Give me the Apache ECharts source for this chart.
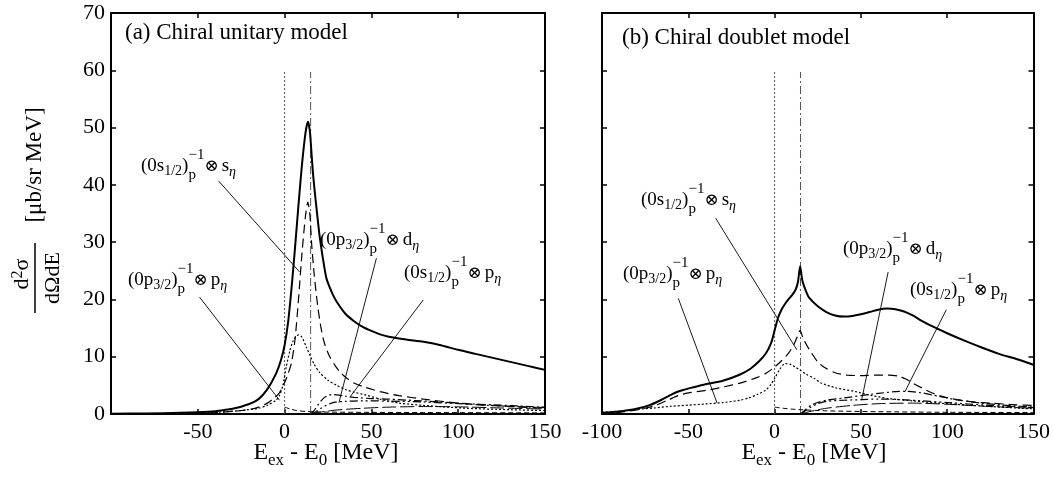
<!DOCTYPE html>
<html>
<head>
<meta charset="utf-8">
<script src="https://cdn.jsdelivr.net/npm/echarts@6/dist/echarts.min.js"></script>
<style>
  html, body { margin: 0; padding: 0; background: #fff; }
  #chart { width: 1053px; height: 478px; }
</style>
</head>
<body>
<div id="chart"></div>
<script>
// ---------------- data: excitation energy [MeV] vs d2sigma/dOmega dE [ub/sr MeV] ----------------
const energyTicks = [-100, -50, 0, 50, 100, 150];
const crossSectionTicks = [0, 10, 20, 30, 40, 50, 60, 70];

// (a) chiral unitary model
const unitaryTotal = [[-100,0.05],[-80,0.1],[-60,0.2],[-50,0.3],[-40,0.5],[-30,0.9],[-20,1.8],[-15,2.6],[-10,4.3],[-5,7],[-2,9.5],[0,12],[2,16],[4,22],[6,29],[8,36.5],[10,43.5],[12,49],[13.4,51],[14.5,49.5],[15.5,45.5],[16.5,41.5],[18,37],[20,31.5],[22,27.3],[24,23.8],[26,22.1],[28,20.7],[30,19.6],[35,17.5],[40,16.2],[45,15.2],[50,14.5],[55,13.9],[60,13.5],[70,13.0],[80,12.6],[90,12.0],[100,11.2],[110,10.5],[120,9.8],[130,9.1],[140,8.4],[150,7.7]];
const unitaryS12SEta = [[-100,0.02],[-60,0.1],[-40,0.25],[-30,0.45],[-20,0.8],[-15,1.2],[-10,1.9],[-6,2.8],[-3,3.7],[0,5.5],[2,7],[4,9],[6,13],[8,20],[10,28],[12,34.5],[13.4,37],[14.5,35],[15.5,30],[17,24.5],[19,19],[21,15],[23,12.3],[26,10],[29,8.5],[32,7.3],[36,6.2],[40,5.4],[45,4.8],[55,3.9],[66,3.2],[80,2.6],[100,1.9],[125,1.4],[150,1.0]];
const unitaryP32PEta = [[-100,0.02],[-60,0.1],[-40,0.3],[-25,0.6],[-15,1.0],[-10,1.5],[-5,2.4],[-3,3.2],[-1,5],[1,8.3],[3,11],[5,12.8],[8,13.8],[10,13.4],[12.5,11.7],[15,10],[17,8.7],[20,7.3],[25,5.9],[30,5.0],[35,4.3],[40,3.8],[47,3.3],[55,2.6],[66,1.9],[80,1.5],[105,1.0],[130,0.75],[150,0.6]];
const unitaryS12PEta = [[15,0],[17,0.6],[19,1.5],[21,2.3],[23,2.9],[25,3.25],[27,3.4],[30,3.35],[35,3.1],[40,2.9],[50,2.7],[60,2.6],[75,2.35],[90,2.1],[105,1.8],[120,1.6],[135,1.4],[150,1.2]];
const unitaryP32DEta = [[15,0],[18,0.4],[21,1.0],[24,1.5],[27,1.9],[30,2.1],[35,2.2],[45,2.3],[60,2.25],[80,2.1],[100,1.8],[125,1.4],[150,1.1]];
const unitaryP12PEta = [[15,0],[20,0.3],[30,0.7],[45,1.0],[60,1.2],[80,1.3],[100,1.25],[125,1.05],[150,0.85]];
const unitaryP12SEta = [[0,1.2],[3,0.9],[7,0.6],[12,0.45],[20,0.35],[40,0.3],[80,0.25],[150,0.2]];

// (b) chiral doublet model
const doubletTotal = [[-100,0.2],[-90,0.45],[-80,0.9],[-72,1.6],[-66,2.4],[-61,3.2],[-57,3.8],[-53,4.2],[-48,4.6],[-40,5.2],[-30,5.8],[-20,6.9],[-14,7.9],[-9,9.2],[-5,10.6],[-2,12.4],[0,14.6],[2,16.8],[4,18.2],[6,19.2],[8,20],[10,20.7],[12,21.6],[13.5,23],[14.8,25.8],[16,23.4],[18,21.6],[20,20.3],[25,18.8],[30,17.8],[35,17.2],[40,17.0],[45,17.1],[50,17.4],[55,17.8],[60,18.2],[65,18.4],[70,18.3],[75,17.9],[80,17.2],[85,16.3],[90,15.5],[100,14.1],[110,12.8],[120,11.6],[130,10.5],[140,9.6],[150,8.6]];
const doubletS12SEta = [[-100,0.1],[-90,0.3],[-80,0.7],[-70,1.4],[-62,2.4],[-56,3.2],[-50,3.7],[-45,3.9],[-38,4.2],[-30,4.7],[-20,5.4],[-10,6.4],[-5,7.1],[0,8.2],[4,9.3],[8,10.6],[11,12],[13,13.4],[14.8,14.6],[16.5,13.2],[19,11.8],[21.5,10.6],[25,9.1],[29,8.1],[35,7.2],[42,6.8],[50,6.7],[58,6.8],[66,6.8],[72,6.6],[76,6.1],[80,5.4],[85,4.6],[91,3.7],[98,3.0],[106,2.5],[115,2.1],[125,1.9],[140,1.6],[150,1.5]];
const doubletP32PEta = [[-100,0.3],[-90,0.5],[-80,0.8],[-70,1.05],[-60,1.35],[-50,1.55],[-40,1.75],[-30,2.0],[-20,2.4],[-15,2.8],[-10,3.4],[-5,4.2],[-2,5.2],[0,6.2],[3,7.8],[6,8.8],[9,8.7],[12,8.2],[15,7.6],[18,7.0],[23,6.2],[27,5.4],[35,4.6],[47,3.9],[55,3.3],[66,2.7],[80,2.3],[95,1.9],[120,1.4],[143,1.0],[150,0.9]];
const doubletS12PEta = [[15,0],[18,0.8],[21,1.5],[25,2.0],[30,2.4],[40,2.8],[50,3.2],[60,3.6],[70,3.9],[76,3.95],[85,3.7],[95,3.1],[105,2.5],[120,1.9],[135,1.5],[150,1.2]];
const doubletP32DEta = [[15,0],[18,0.6],[21,1.2],[25,1.8],[30,2.2],[40,2.4],[50,2.5],[60,2.6],[70,2.55],[80,2.4],[100,2.0],[125,1.5],[150,1.1]];
const doubletP12PEta = [[15,0],[20,0.4],[30,1.0],[45,1.5],[60,1.8],[80,1.9],[100,1.7],[125,1.3],[150,1.0]];
const doubletP12SEta = [[0,1.2],[5,1.0],[10,0.85],[15,0.75],[30,0.55],[60,0.4],[100,0.3],[150,0.25]];

// eta-production thresholds and the height their markers are drawn to
const thresholdEnergies = [0, 15];
const thresholdTop = 59.7;

// ---------------- drawing ----------------
const FAMILY = '"Liberation Serif", "DejaVu Serif", "DejaVu Sans", serif';
const chart = echarts.init(document.getElementById('chart'), null, { renderer: 'canvas' });

const styles = {
  total:  { width: 2, type: 'solid' },
  sEta:   { width: 1.2, type: [9, 5] },
  pEta:   { width: 1.2, type: [2, 2] },
  spEta:  { width: 1.2, type: [8, 3, 2, 3] },
  dEta:   { width: 1.2, type: [8, 3, 2, 3, 2, 3] },
  pp:     { width: 1, type: [14, 4] },
  ps:     { width: 1, type: [5, 3] }
};

function curve(data, idx, style, z) {
  return {
    type: 'line', xAxisIndex: idx, yAxisIndex: idx, data: data,
    showSymbol: false, symbol: 'none', smooth: 0.25, silent: true,
    lineStyle: Object.assign({ color: '#000' }, style), z: z || 3
  };
}
function segment(a, b, idx, style) {
  return {
    type: 'line', xAxisIndex: idx, yAxisIndex: idx, data: [a, b],
    showSymbol: false, symbol: 'none', smooth: false, silent: true,
    lineStyle: Object.assign({ color: '#000' }, style), z: 2
  };
}

// pointer lines from each label to its curve, in data coordinates
const unitaryPointers = [[[-38.1,40.7],[8.65,24.8]], [[-49,20.4],[-2.9,2.4]], [[52.9,27.2],[31.3,2.0]], [[79.8,19.9],[37.5,2.9]]];
const doubletPointers = [[[-34.2,34.2],[12.9,11.2]], [[-55.8,20.2],[-33.3,1.9]], [[65.8,24.8],[50.4,2.4]], [[99.5,18.2],[75.5,3.9]]];

function panelSeries(idx, set, pointers) {
  const out = [];
  out.push(segment([thresholdEnergies[0], 0], [thresholdEnergies[0], thresholdTop], idx, { color: '#555', width: 1, type: [2, 2] }));
  out.push(segment([thresholdEnergies[1], 0], [thresholdEnergies[1], thresholdTop], idx, { color: '#555', width: 1, type: [8, 3, 2, 3] }));
  pointers.forEach(p => out.push(segment(p[0], p[1], idx, { width: 0.9 })));
  out.push(curve(set.ps, idx, styles.ps));
  out.push(curve(set.pp, idx, styles.pp));
  out.push(curve(set.dEta, idx, styles.dEta));
  out.push(curve(set.spEta, idx, styles.spEta));
  out.push(curve(set.pEta, idx, styles.pEta));
  out.push(curve(set.sEta, idx, styles.sEta));
  out.push(curve(set.total, idx, styles.total, 5));
  return out;
}

const series = [].concat(
  panelSeries(0, { total: unitaryTotal, sEta: unitaryS12SEta, pEta: unitaryP32PEta, spEta: unitaryS12PEta, dEta: unitaryP32DEta, pp: unitaryP12PEta, ps: unitaryP12SEta }, unitaryPointers),
  panelSeries(1, { total: doubletTotal, sEta: doubletS12SEta, pEta: doubletP32PEta, spEta: doubletS12PEta, dEta: doubletP32DEta, pp: doubletP12PEta, ps: doubletP12SEta }, doubletPointers)
);

// axes
const eMin = energyTicks[0], eMax = energyTicks[energyTicks.length - 1], eStep = energyTicks[1] - energyTicks[0];
const sMin = crossSectionTicks[0], sMax = crossSectionTicks[crossSectionTicks.length - 1], sStep = crossSectionTicks[1] - crossSectionTicks[0];
const axisLine = { show: true, onZero: false, lineStyle: { color: '#000', width: 2 } };
const axisTick = { show: true, inside: true, length: 5, lineStyle: { color: '#000', width: 1.5 } };
const labelFont = { color: '#000', fontFamily: FAMILY, fontSize: 22 };

function xAxis(grid, position, labels, hideFirst) {
  return {
    type: 'value', gridIndex: grid, position: position, min: eMin, max: eMax, interval: eStep,
    axisLine, axisTick, splitLine: { show: false },
    axisLabel: Object.assign({ show: labels, margin: 7, formatter: v => (hideFirst && v === eMin) ? '' : String(v) }, labelFont)
  };
}
function yAxis(grid, position, labels) {
  return {
    type: 'value', gridIndex: grid, position: position, min: sMin, max: sMax, interval: sStep,
    axisLine, axisTick, splitLine: { show: false },
    axisLabel: Object.assign({ show: labels, margin: 6 }, labelFont)
  };
}

// ---------------- text with sub/superscripts ----------------
const measureCtx = document.createElement('canvas').getContext('2d');
function fontOf(p) { return (p.it ? 'italic ' : '') + p.s + 'px ' + FAMILY; }
function widthOf(p) { measureCtx.font = fontOf(p); return measureCtx.measureText(p.t).width; }
function pieceWidth(p) { return p.stack ? Math.max.apply(null, p.stack.map(widthOf)) + (p.pad || 0) : widthOf(p) + (p.pad || 0); }
function textAt(p, x, base) {
  return {
    type: 'text', x: x, y: base + (p.dy || 0) - 0.34 * p.s, silent: true,
    style: { text: p.t, font: fontOf(p), fill: '#000', textAlign: 'left', textVerticalAlign: 'middle' }
  };
}
function layoutText(pieces, x0, base, center) {
  const total = pieces.reduce((a, p) => a + pieceWidth(p), 0);
  let x = center ? x0 - total / 2 : x0;
  const els = [];
  pieces.forEach(p => {
    if (p.stack) p.stack.forEach(q => els.push(textAt(q, x, base)));
    else els.push(textAt(p, x, base));
    x += pieceWidth(p);
  });
  return els;
}
function holeLabel(shell, j, wave) {
  return [
    { t: '(0' + shell, s: 19 },
    { t: j, s: 14, dy: 4 },
    { t: ')', s: 19 },
    { stack: [{ t: '\u22121', s: 15, dy: -12 }, { t: 'p', s: 15, dy: 8 }] },
    { t: '\u2297', s: 17, pad: 3 },
    { t: wave, s: 19 },
    { t: '\u03b7', s: 14, dy: 5, it: true }
  ];
}
const energyName = [{ t: 'E', s: 24 }, { t: 'ex', s: 17, dy: 5 }, { t: ' - E', s: 24 }, { t: '0', s: 17, dy: 5 }, { t: ' [MeV]', s: 24 }];

const graphics = [].concat(
  layoutText([{ t: '(a) Chiral unitary model', s: 23 }], 125, 41),
  layoutText([{ t: '(b) Chiral doublet model', s: 23 }], 622, 46),
  layoutText(holeLabel('s', '1/2', 's'), 141, 172),
  layoutText(holeLabel('p', '3/2', 'p'), 128, 286),
  layoutText(holeLabel('p', '3/2', 'd'), 320, 246),
  layoutText(holeLabel('s', '1/2', 'p'), 404, 279),
  layoutText(holeLabel('s', '1/2', 's'), 641, 206),
  layoutText(holeLabel('p', '3/2', 'p'), 623, 280),
  layoutText(holeLabel('p', '3/2', 'd'), 843, 255),
  layoutText(holeLabel('s', '1/2', 'p'), 910, 296),
  layoutText(energyName, 326, 461, true),
  layoutText(energyName, 814, 461, true),
  [
    { type: 'group', x: 35, y: 165, rotation: Math.PI / 2, children: layoutText([{ t: '[\u03bcb/sr MeV]', s: 23 }], 0, 0.34 * 23, true) },
    {
      type: 'group', x: 35, y: 278, rotation: Math.PI / 2,
      children: [].concat(
        [{ type: 'line', silent: true, shape: { x1: -35, y1: 0, x2: 35, y2: 0 }, style: { stroke: '#000', lineWidth: 1.5 } }],
        layoutText([{ t: 'd', s: 22 }, { t: '2', s: 16, dy: -7 }, { t: '\u03c3', s: 22 }], 4, -5, true),
        layoutText([{ t: 'd\u03a9dE', s: 22 }], 0, 26, true)
      )
    }
  ]
);

chart.setOption({
  animation: false,
  backgroundColor: '#fff',
  grid: [
    { left: 111, top: 13, width: 434, height: 401 },
    { left: 602, top: 13, width: 433, height: 401 }
  ],
  xAxis: [xAxis(0, 'bottom', true, true), xAxis(1, 'bottom', true, false), xAxis(0, 'top', false), xAxis(1, 'top', false)],
  yAxis: [yAxis(0, 'left', true), yAxis(1, 'left', false), yAxis(0, 'right', false), yAxis(1, 'right', false)],
  series: series,
  graphic: { elements: graphics }
});
</script>
</body>
</html>
